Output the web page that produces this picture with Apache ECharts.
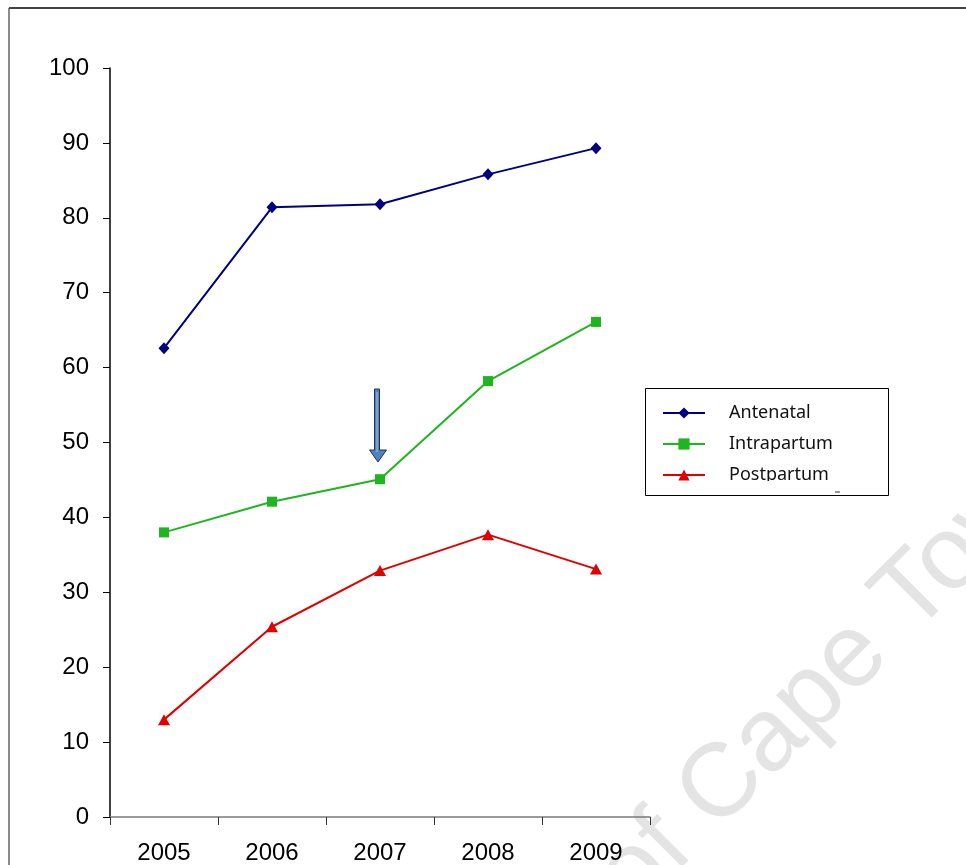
<!DOCTYPE html>
<html>
<head>
<meta charset="utf-8">
<script src="https://cdn.jsdelivr.net/npm/echarts@6/dist/echarts.min.js"></script>
<style>
html,body{margin:0;padding:0;background:#fff;}
#chart{width:966px;height:865px;}
</style>
</head>
<body>
<div id="chart"></div>
<script>
const years = ['2005', '2006', '2007', '2008', '2009'];
const antenatal = [62.6, 81.4, 81.8, 85.8, 89.3];
const intrapartum = [38.0, 42.1, 45.1, 58.2, 66.1];
const postpartum = [13.0, 25.4, 32.9, 37.7, 33.1];
const yTicks = { min: 0, max: 100, interval: 10 };

const chart = echarts.init(document.getElementById('chart'), null, { renderer: 'canvas' });

const wmFont = '104px "Liberation Sans", Arial, sans-serif';
const wmColor = '#e4e4e4';

const option = {
  backgroundColor: '#fff',
  animation: false,
  grid: { left: 110, right: 316, top: 68, bottom: 46, containLabel: false },
  legend: {
    orient: 'vertical',
    left: 657,
    top: 398,
    itemWidth: 42,
    itemHeight: 14,
    itemGap: 11,
    selectedMode: false,
    data: ['Antenatal', 'Intrapartum', 'Postpartum'],
    textStyle: { fontFamily: '"Noto Sans", sans-serif', fontSize: 18, color: '#111', padding: [0, 0, 0, 19], lineHeight: 20 }
  },
  xAxis: {
    type: 'category',
    data: years,
    boundaryGap: true,
    axisLine: { lineStyle: { color: '#7a7a7a', width: 1.5 } },
    axisTick: { show: true, inside: false, length: 8, lineStyle: { color: '#333', width: 1 } },
    axisLabel: { fontFamily: '"Liberation Sans", Arial, sans-serif', fontSize: 24, color: '#000', margin: 24 },
    splitLine: { show: false }
  },
  yAxis: {
    type: 'value',
    min: yTicks.min,
    max: yTicks.max,
    interval: yTicks.interval,
    axisLine: { show: true, lineStyle: { color: '#000', width: 1.5 } },
    axisTick: { show: true, inside: false, length: 7, lineStyle: { color: '#000', width: 1 } },
    axisLabel: { fontFamily: '"Liberation Sans", Arial, sans-serif', fontSize: 24, color: '#000', margin: 21 },
    splitLine: { show: false }
  },
  series: [
    {
      name: 'Antenatal', type: 'line', data: antenatal,
      symbol: 'diamond', symbolSize: [11, 12],
      lineStyle: { color: '#000080', width: 2 },
      itemStyle: { color: '#000080' }, z: 5
    },
    {
      name: 'Intrapartum', type: 'line', data: intrapartum,
      symbol: 'rect', symbolSize: 10,
      lineStyle: { color: '#1fb51f', width: 2 },
      itemStyle: { color: '#1fb51f' }, z: 4
    },
    {
      name: 'Postpartum', type: 'line', data: postpartum,
      symbol: 'triangle', symbolSize: [12, 11],
      lineStyle: { color: '#e00000', width: 2 },
      itemStyle: { color: '#e00000' }, z: 3
    }
  ],
  graphic: [
    // outer frame
    { type: 'line', z: 50, shape: { x1: 9, y1: 8, x2: 9, y2: 865 }, style: { stroke: '#8a8a8a', lineWidth: 2 } },
    { type: 'line', z: 50, shape: { x1: 9, y1: 8, x2: 966, y2: 8 }, style: { stroke: '#444', lineWidth: 2 } },
    // watermark
    { type: 'text', z: -10, x: 651, y: 931, rotation: Math.PI / 4,
      style: { text: 'of Cape Town', font: wmFont, fill: wmColor, textAlign: 'left', textVerticalAlign: 'bottom', align: 'left', verticalAlign: 'bottom' } },
    // arrow annotation
    { type: 'polygon', z: 60,
      shape: { points: [[374.5, 389], [379.5, 389], [379.5, 450], [386.5, 450], [378, 462], [369.5, 450], [374.5, 450]] },
      style: { fill: '#5082be', stroke: '#22324f', lineWidth: 1 } },
    { type: 'line', z: 61, shape: { x1: 377, y1: 392, x2: 377, y2: 452 }, style: { stroke: '#a9c3e6', lineWidth: 1 } },
    // legend clipping cover + border
    { type: 'rect', z: 100, shape: { x: 646, y: 481, width: 242, height: 14 }, style: { fill: '#fff' } },
    { type: 'line', z: 101, shape: { x1: 835, y1: 492, x2: 840, y2: 492 }, style: { stroke: '#333', lineWidth: 1 } },
    { type: 'rect', z: 101, shape: { x: 645.5, y: 388.5, width: 243, height: 107 }, style: { fill: 'none', stroke: '#000', lineWidth: 1 } }
  ]
};

chart.setOption(option);
</script>
</body>
</html>
